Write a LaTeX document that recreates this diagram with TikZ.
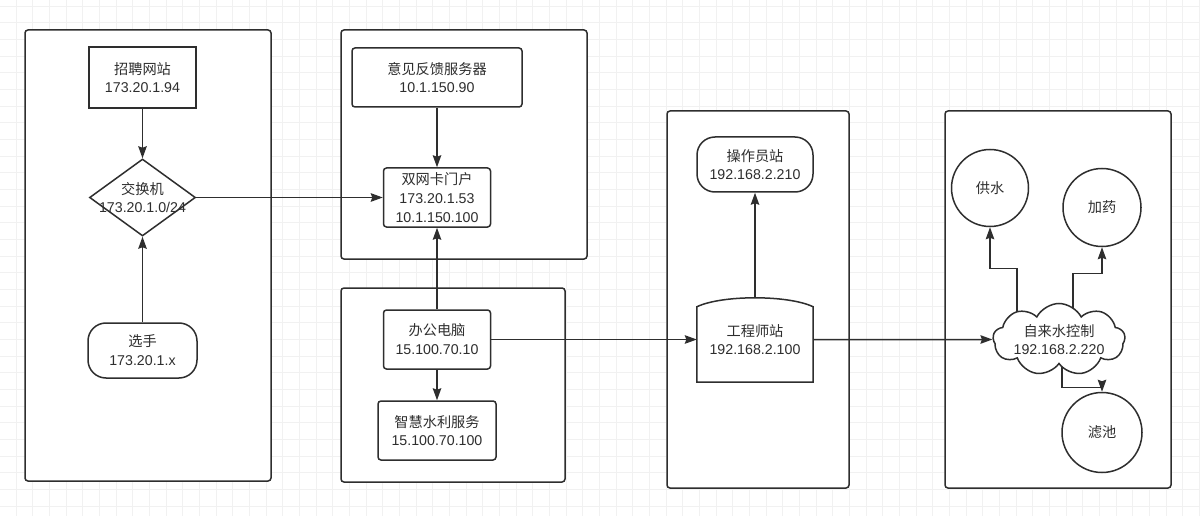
\documentclass[tikz,border=0pt]{standalone}
\usepackage{fontspec}
\setmainfont{Liberation Sans}
\newfontfamily\cjk{Noto Sans CJK SC}
\newcommand\zh[1]{{\cjk #1}}
\usetikzlibrary{shapes.geometric,shapes.symbols,arrows.meta,calc}
\definecolor{ln}{HTML}{2E2E2E}
\definecolor{gridc}{HTML}{F1F1F1}
\pgfdeclarelayer{bg}
\pgfdeclarelayer{edges}
\pgfsetlayers{bg,edges,main}
\begin{document}
\begin{tikzpicture}[x=1pt,y=-1pt,
  font=\fontsize{14.2}{18.8}\selectfont, text=ln,
  cont/.style={draw=ln, line width=1.5pt, fill=white, rounded corners=3pt, inner sep=0pt},
  rbox/.style={draw=ln, line width=1.5pt, fill=white, inner sep=0pt, align=center, rounded corners=3pt},
  sbox/.style={draw=ln, line width=1.5pt, fill=white, inner sep=0pt, align=center},
  pill/.style={draw=ln, line width=1.5pt, fill=white, inner sep=0pt, align=center, rounded corners=18pt},
  circ/.style={circle, draw=ln, line width=1.5pt, fill=white, inner sep=0pt, align=center},
  lbl/.style={align=center, inner sep=0pt, text=ln},
  arr/.style={draw=ln, line width=1.5pt, -{Stealth[length=12pt,width=8.5pt,inset=1.5pt]}}]
\useasboundingbox (0,0) rectangle (1200,516);

% ---------- nodes ----------
\node[sbox, minimum width=107pt, minimum height=61pt] (zp) at (142.5,77.5) {\zh{招聘网站}\\173.20.1.94};
\node[diamond, draw=ln, line width=1.5pt, fill=white, inner sep=0pt, minimum width=106pt, minimum height=77pt,
      label={[lbl]center:{\zh{交换机}\\173.20.1.0/24}}] (sw) at (142.5,197.5) {};
\node[pill, minimum width=109pt, minimum height=55pt] (xs) at (142.5,350.5) {\zh{选手}\\173.20.1.x};

\node[rbox, minimum width=170pt, minimum height=59pt] (fb) at (437,77.5) {\zh{意见反馈服务器}\\10.1.150.90};
\node[rbox, minimum width=107pt, minimum height=59pt] (dual) at (437,197.5) {\zh{双网卡门户}\\173.20.1.53\\10.1.150.100};
\node[rbox, minimum width=107pt, minimum height=59pt] (pc) at (437,339.5) {\zh{办公电脑}\\15.100.70.10};
\node[rbox, minimum width=118pt, minimum height=59pt] (zh) at (437,430.5) {\zh{智慧水利服务}\\15.100.70.100};

\node[pill, minimum width=116pt, minimum height=55pt] (op) at (755,164.5) {\zh{操作员站}\\192.168.2.210};
\node[inner sep=0pt, minimum width=116pt, minimum height=85pt] (engb) at (755,339.5) {};
\filldraw[draw=ln, fill=white, line width=1.5pt]
  (engb.south west) -- (engb.south east) -- ($(engb.north east)+(0,10)$)
  .. controls ($(engb.north east)+(-25,-2)$) and ($(engb.north west)+(25,-2)$) .. ($(engb.north west)+(0,10)$) -- cycle;
\node[lbl] (eng) at (engb.center) {\zh{工程师站}\\192.168.2.100};

\node[circ, minimum size=77pt] (gs) at (990,188) {\zh{供水}};
\node[circ, minimum size=78pt] (jy) at (1102,207.5) {\zh{加药}};
\node[circ, minimum size=80pt] (lc) at (1102,432.5) {\zh{滤池}};
\node[cloud, cloud puffs=9, cloud puff arc=125, cloud ignores aspect, draw=ln, fill=white, line width=1.5pt, inner sep=0pt,
      minimum width=132pt, minimum height=72pt,
      label={[lbl]center:{\zh{自来水控制}\\192.168.2.220}}] (cl) at (1059,339.5) {};

% ---------- background: grid and containers ----------
\begin{pgfonlayer}{bg}
  \fill[white] (0,0) rectangle (1200,516);
  \foreach \i in {0,...,72} \draw[gridc, line width=0.8pt] ({\i*16.667-0.7},0) -- ++(0,516);
  \foreach \j in {0,...,31} \draw[gridc, line width=0.8pt] (0,{\j*16.667+6}) -- ++(1200,0);
  \node[cont, minimum width=246pt, minimum height=451pt] (g1) at (148,255.5) {};
  \node[cont, minimum width=246pt, minimum height=229pt] (g2) at (464,144.5) {};
  \node[cont, minimum width=224pt, minimum height=194pt] (g3) at (453,385) {};
  \node[cont, minimum width=182pt, minimum height=377pt] (g4) at (758,299.5) {};
  \node[cont, minimum width=226pt, minimum height=377pt] (g5) at (1058,299.5) {};
\end{pgfonlayer}

% ---------- connectors ----------
\begin{pgfonlayer}{edges}
  \draw[arr] (zp.south) -- (sw.north);
  \draw[arr] (xs.north) -- (sw.south);
  \draw[arr] (sw.east) -- (dual.west);
  \draw[arr] (fb.south) -- (dual.north);
  \draw[arr] (pc.north) -- (dual.south);
  \draw[arr] (pc.south) -- (zh.north);
  \draw[arr] (pc.east) -- (engb.west);
  \draw[arr] (engb.north) -- (op.south);
  \draw[arr] (engb.east) -- (cl.west);
  \draw[arr] ($(cl.center)+(-42,0)$) -- ++(0,-71) -| (gs.south);
  \draw[arr] ($(cl.center)+(14,0)$) -- ++(0,-66) -| (jy.south);
  \draw[arr] ($(cl.center)+(3,0)$) -- ++(0,48) -| (lc.north);
\end{pgfonlayer}
\end{tikzpicture}
\end{document}
